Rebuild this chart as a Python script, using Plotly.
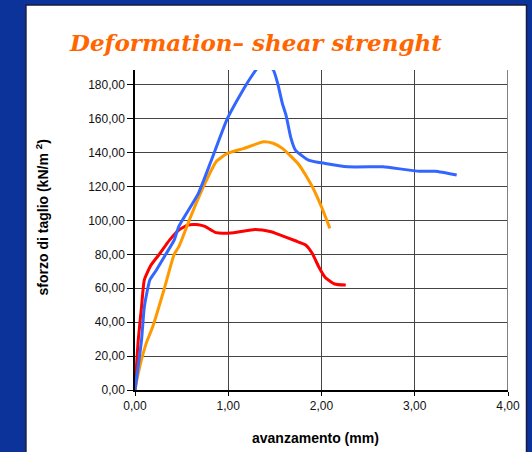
import plotly.graph_objects as go

# data (x: avanzamento mm, y: sforzo kN/m2)
blue_x = [0.0, 0.07, 0.10, 0.16, 0.23, 0.33, 0.42, 0.47, 0.68, 0.82, 0.99, 1.17, 1.25, 1.31, 1.40, 1.48, 1.53, 1.58, 1.62, 1.67, 1.72, 1.86, 2.04, 2.28, 2.56, 2.66, 3.05, 3.22, 3.45]
blue_y = [0.0, 29.5, 49.0, 65.0, 70.8, 80.0, 88.4, 96.5, 116.0, 135.6, 160.0, 178.0, 185.0, 189.5, 190.5, 189.0, 180.8, 169.0, 162.0, 149.0, 141.5, 135.6, 133.6, 131.6, 131.6, 131.6, 129.0, 129.0, 126.8]

orange_x = [0.0, 0.035, 0.12, 0.19, 0.31, 0.42, 0.47, 0.61, 0.75, 0.87, 0.99, 1.17, 1.38, 1.48, 1.58, 1.76, 1.90, 2.00, 2.09]
orange_y = [0.0, 10.0, 27.5, 37.3, 59.0, 80.0, 84.5, 104.0, 121.8, 134.6, 139.5, 142.5, 146.4, 145.5, 142.5, 132.7, 120.0, 108.0, 95.3]

red_x = [0.0, 0.035, 0.07, 0.10, 0.17, 0.26, 0.37, 0.47, 0.57, 0.68, 0.75, 0.87, 1.06, 1.29, 1.46, 1.51, 1.72, 1.83, 1.90, 1.97, 2.04, 2.14, 2.26]
red_y = [0.0, 29.5, 49.0, 65.0, 73.5, 80.0, 88.4, 94.3, 97.3, 97.5, 96.5, 92.8, 92.8, 94.7, 93.3, 92.4, 88.0, 85.5, 80.6, 72.7, 66.4, 62.5, 61.9]

y_ticks = [0, 20, 40, 60, 80, 100, 120, 140, 160, 180]
x_ticks = [0, 1, 2, 3, 4]

W, H = 532, 452
L, R, T, B = 135, 14, 70, 62
PH = H - T - B
PW = W - L - R


def py(p):
    """pixel row -> paper y"""
    return (H - B - p) / PH


def px(p):
    """pixel column -> paper x"""
    return (p - L) / PW


fig = go.Figure()
for xs, ys, col in [(red_x, red_y, "#FF0000"), (orange_x, orange_y, "#FF9900"), (blue_x, blue_y, "#3366FF")]:
    fig.add_trace(go.Scatter(x=xs, y=ys, mode="lines", line=dict(color=col, width=3, shape="spline", smoothing=0.5),
                             showlegend=False, hoverinfo="skip"))

fig.update_layout(
    width=W, height=H,
    margin=dict(l=L, r=R, t=T, b=B),
    paper_bgcolor="#0B3399",
    plot_bgcolor="white",
    separators=",.",
    font=dict(family="Liberation Sans, Arial, sans-serif", color="#111111", size=12),
    xaxis=dict(range=[0, 4], tickvals=x_ticks, tickformat=".2f", showgrid=True, gridcolor="#444444", gridwidth=1,
               showline=True, linecolor="black", linewidth=1.5, ticks="outside", ticklen=4, tickcolor="black",
               zeroline=False, tickfont=dict(size=12)),
    yaxis=dict(range=[0, 188.7], tickvals=y_ticks, tickformat=".2f", showgrid=True, gridcolor="#444444", gridwidth=1,
               showline=True, linecolor="black", linewidth=1.5, ticks="outside", ticklen=6, tickcolor="black",
               zeroline=False, tickfont=dict(size=12)),
    shapes=[
        dict(type="rect", xref="paper", yref="paper", x0=px(23), x1=px(W + 5),
             y0=py(H + 5), y1=py(5),
             fillcolor="white", line=dict(color="#1a1a40", width=1.5), layer="below"),
        dict(type="line", xref="x", yref="paper", x0=4, x1=4, y0=0, y1=1, line=dict(color="#808080", width=2)),
    ],
    annotations=[
        dict(text="<b><i>Deformation– shear strenght</i></b>", xref="paper", yref="paper",
             x=px(259), y=py(42), xanchor="center", yanchor="middle",
             showarrow=False, font=dict(family="DejaVu Serif, serif", size=23, color="#FF6600")),
        dict(text="<b>sforzo di taglio (kN/m <sup>2</sup>)</b>", xref="paper", yref="paper", textangle=-90,
             x=px(40), y=py(217), xanchor="center", yanchor="middle",
             showarrow=False, font=dict(size=14, color="black")),
        dict(text="<b>avanzamento (mm)</b>", xref="paper", yref="paper",
             x=px(320), y=py(438), xanchor="center", yanchor="middle",
             showarrow=False, font=dict(size=14, color="black")),
    ],
)
fig.write_html("out.html", config={"displayModeBar": False},
               post_script="document.body.style.margin='0';document.body.style.overflow='hidden';")
